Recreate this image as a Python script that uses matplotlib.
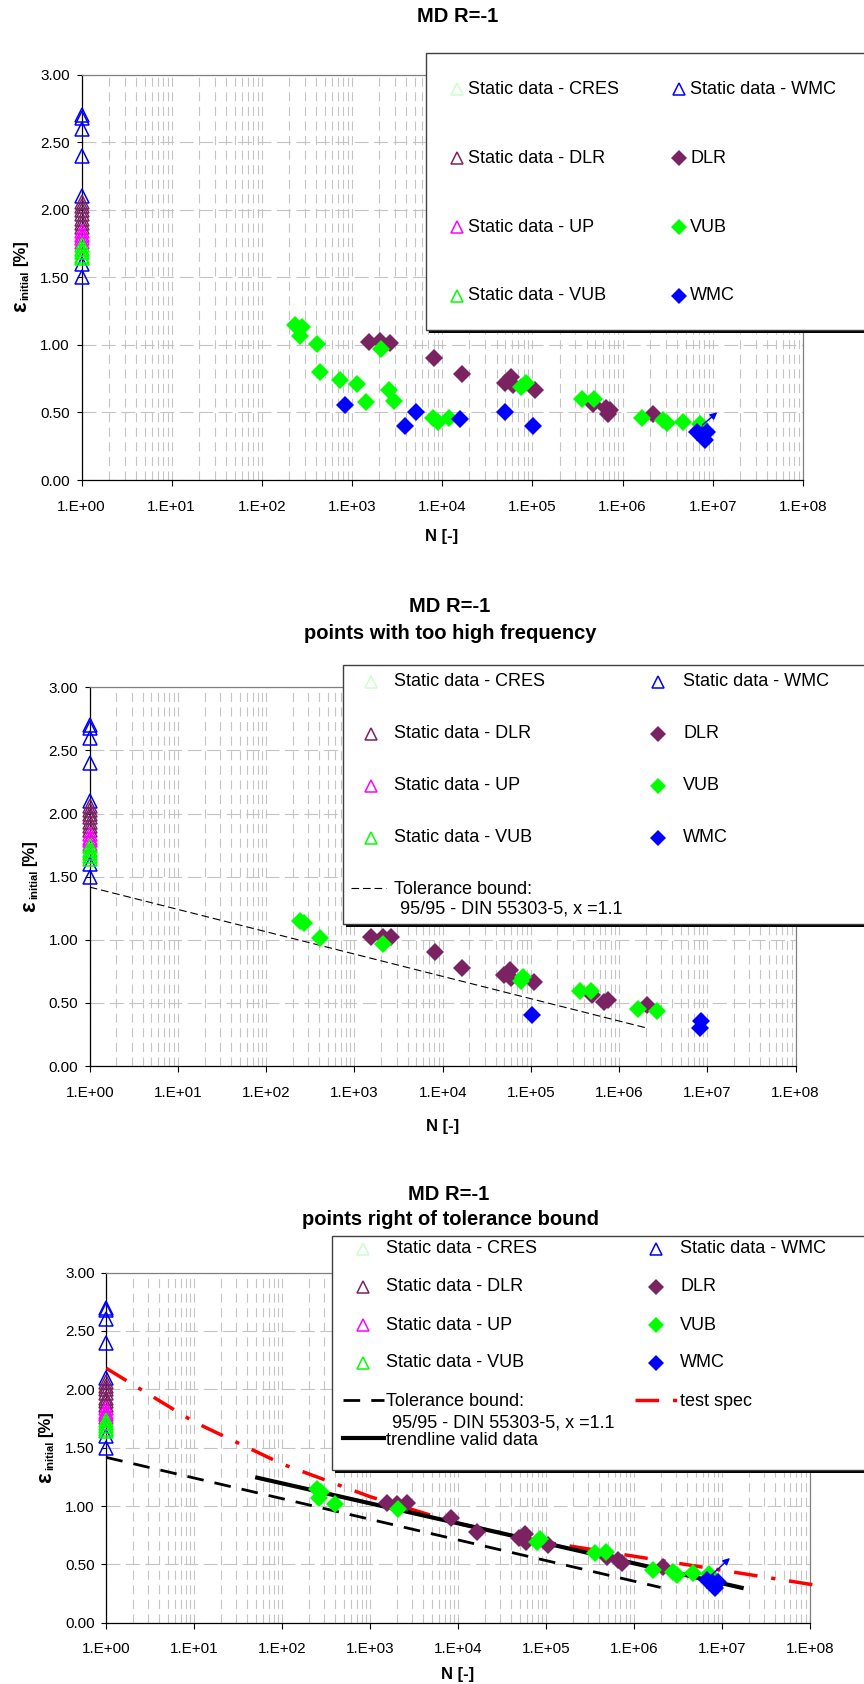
import numpy as np
import matplotlib
matplotlib.use("Agg")
import matplotlib.pyplot as plt
from matplotlib.patches import Rectangle
from matplotlib.ticker import FixedLocator, FuncFormatter, LogLocator, NullFormatter

plt.rcParams['font.family'] = ['Liberation Sans', 'DejaVu Sans']
plt.rcParams['lines.scale_dashes'] = False

# === colores de las series ===
C_CRES = '#CCFFCC'
C_WMC = '#0000FF'
C_DLR = '#7B2262'
C_UP = '#FF00FF'
C_VUB = '#00FF00'

# === datos estaticos (todos en N = 1) ===
static_cres = [1.70]
static_wmc = [2.70, 2.68, 2.60, 2.40, 2.10, 1.60, 1.50]
static_dlr = [2.06, 2.03, 2.00, 1.97, 1.93, 1.90, 1.87]
static_up = [1.84, 1.81, 1.79, 1.76]
static_vub = [1.74, 1.71, 1.69, 1.66, 1.64]

# === grafico 1: todos los puntos ===
p1_vub_N = [233, 276, 265, 405, 441, 735, 1143, 1416, 2075, 2567, 2915, 7960, 9040, 11880,
            74000, 85000, 357000, 481000, 1.63e6, 2.78e6, 3.08e6, 4.71e6, 7.2e6]
p1_vub_eps = [1.147, 1.130, 1.066, 1.007, 0.80, 0.74, 0.71, 0.577, 0.972, 0.666, 0.585, 0.461, 0.432, 0.461,
              0.69, 0.715, 0.597, 0.597, 0.456, 0.444, 0.424, 0.427, 0.414]
p1_dlr_N = [1541, 2040, 2630, 8160, 16400, 49600, 57400, 60400, 106700, 473000, 660000, 720000, 680000, 2.15e6]
p1_dlr_eps = [1.024, 1.031, 1.016, 0.905, 0.785, 0.72, 0.76, 0.703, 0.666, 0.563, 0.53, 0.52, 0.49, 0.486]
p1_wmc_N = [841, 3864, 5070, 15730, 50000, 102000, 6.62e6, 8.55e6, 8.19e6, 7.5e6]
p1_wmc_eps = [0.555, 0.402, 0.501, 0.454, 0.501, 0.402, 0.358, 0.358, 0.296, 0.333]
p1_arrow_N = [7.67e6, 1.12e7]
p1_arrow_eps = [0.407, 0.501]

# === grafico 2: puntos con frecuencia demasiado alta ===
p2_vub_N = [243, 269, 403, 2100, 82000, 76500, 361000, 482000, 1.64e6, 2.71e6]
p2_vub_eps = [1.151, 1.130, 1.011, 0.966, 0.708, 0.676, 0.597, 0.597, 0.449, 0.438]
p2_dlr_N = [1530, 2100, 2610, 8240, 16400, 49700, 57300, 60000, 109600, 497000, 676000, 741000, 2.09e6]
p2_dlr_eps = [1.024, 1.024, 1.019, 0.90, 0.78, 0.72, 0.76, 0.695, 0.668, 0.56, 0.51, 0.523, 0.483]
p2_wmc_N = [102000, 8.43e6, 8.18e6]
p2_wmc_eps = [0.404, 0.357, 0.298]

# === grafico 3: puntos a la derecha de la tolerancia ===
p3_vub_N = [247, 274, 265, 398, 2055, 78200, 85000, 360000, 480000, 1.66e6, 2.75e6, 3.05e6, 4.71e6, 7.16e6]
p3_vub_eps = [1.143, 1.123, 1.066, 1.018, 0.972, 0.695, 0.715, 0.595, 0.604, 0.452, 0.432, 0.41, 0.424, 0.418]
p3_dlr_N = [1540, 2040, 2600, 8300, 16500, 49500, 57500, 59200, 106000, 4.89e5, 6.62e5, 7.24e5, 2.15e6]
p3_dlr_eps = [1.024, 1.018, 1.024, 0.90, 0.781, 0.724, 0.761, 0.695, 0.667, 0.566, 0.538, 0.515, 0.475]
p3_wmc_N = [6.7e6, 7.94e6, 8.32e6, 9.08e6]
p3_wmc_eps = [0.367, 0.338, 0.295, 0.352]
p3_arrow_N = [7.43e6, 1.23e7]
p3_arrow_eps = [0.403, 0.555]

# lineas
tol_N = [1, 2.0e6]
tol_eps = [1.417, 0.303]
trend_N = [52, 1.67e7]
trend_eps = [1.243, 0.300]
spec_N = [1, 10, 1e2, 1e3, 1e4, 1e5, 1e6, 1e7, 1e8, 1.2e8]
spec_eps = [2.18, 1.72, 1.36, 1.08, 0.85, 0.69, 0.57, 0.45, 0.33, 0.322]

legend_left = ['Static data - CRES', 'Static data - DLR', 'Static data - UP', 'Static data - VUB']
legend_right = ['Static data - WMC', 'DLR', 'VUB', 'WMC']
legend_left_col = [C_CRES, C_DLR, C_UP, C_VUB]
legend_right_col = [C_WMC, C_DLR, C_VUB, C_WMC]
legend_right_mk = ['^', 'D', 'D', 'D']

W, H = 864, 1684
GRID = '#C4C4C4'
TRI = dict(marker='^', ms=9.5, mfc='none', mew=1.1, ls='none', clip_on=False)
DIA = dict(marker='D', ms=9.2, mew=0, ls='none')


def make_axes(fig, l, t, r, b):
    ax = fig.add_axes([l / W, 1 - b / H, (r - l) / W, (b - t) / H])
    ax.set_xscale('log')
    ax.set_xlim(1, 1e8)
    ax.set_ylim(0, 3)
    ax.xaxis.set_major_locator(FixedLocator(10.0 ** np.arange(0, 9)))
    ax.xaxis.set_minor_locator(LogLocator(base=10, subs=np.arange(2, 10), numticks=100))
    ax.xaxis.set_minor_formatter(NullFormatter())
    ax.xaxis.set_major_formatter(FuncFormatter(lambda v, p: f"1.E+{int(round(np.log10(v))):02d}"))
    ax.yaxis.set_major_locator(FixedLocator(np.arange(0, 3.01, 0.5)))
    ax.yaxis.set_major_formatter(FuncFormatter(lambda v, p: f"{v:.2f}"))
    ax.grid(True, which='both', axis='x', color=GRID, lw=0.8, linestyle=(0, (6.5, 4)))
    ax.grid(True, which='major', axis='y', color=GRID, lw=0.8, linestyle=(0, (10, 4)))
    ax.set_axisbelow(True)
    ax.tick_params(which='minor', length=0)
    ax.tick_params(axis='x', which='major', length=4.3, width=0.8, pad=9.8, labelsize=11)
    ax.tick_params(axis='y', which='major', length=3.6, width=0.8, pad=4.7, labelsize=11)
    for s in ['left', 'bottom']:
        ax.spines[s].set_color('black')
        ax.spines[s].set_linewidth(0.9)
    for s in ['top', 'right']:
        ax.spines[s].set_color('#808080')
        ax.spines[s].set_linewidth(0.9)
    return ax


def draw_points(ax, vubN, vubE, dlrN, dlrE, wmcN, wmcE):
    ax.plot([1] * len(static_cres), static_cres, color=C_CRES, zorder=5, **TRI)
    ax.plot([1] * len(static_wmc), static_wmc, color=C_WMC, zorder=5, **TRI)
    ax.plot([1] * len(static_dlr), static_dlr, color=C_DLR, zorder=5, **TRI)
    ax.plot(dlrN, dlrE, color=C_DLR, zorder=5, **DIA)
    ax.plot([1] * len(static_up), static_up, color=C_UP, zorder=5, **TRI)
    ax.plot(vubN, vubE, color=C_VUB, zorder=5, **DIA)
    ax.plot([1] * len(static_vub), static_vub, color=C_VUB, zorder=5, **TRI)
    ax.plot(wmcN, wmcE, color=C_WMC, zorder=6, **DIA)


def draw_arrow(ax, aN, aE):
    ax.annotate('', xy=(aN[1], aE[1]), xytext=(aN[0], aE[0]), zorder=7,
                arrowprops=dict(arrowstyle='-|>', color=C_WMC, lw=1, mutation_scale=10,
                                shrinkA=0, shrinkB=0))


def ylabel(ov, xc, yc):
    kw = dict(rotation=90, ha='center', va='center', fontweight='bold', color='black')
    ov.text(xc, yc + 30, 'ε', fontsize=16, **kw)
    ov.text(xc + 4, yc + 8, 'initial', fontsize=8, **kw)
    ov.text(xc, yc - 24, '[%]', fontsize=12, **kw)


def legend_box(ov, left, top, bottom):
    ov.add_patch(Rectangle((left + 3, top + 3), 950 - left, bottom - top, fc='black', ec='none',
                           zorder=1, clip_on=False))
    ov.add_patch(Rectangle((left, top), 950 - left, bottom - top, fc='white', ec='#404040', lw=1,
                           zorder=2, clip_on=False))


def legend_rows(ov, mx1, tx1, mx2, tx2, rows):
    for i, y in enumerate(rows):
        ov.plot([mx1], [y], marker='^', ms=9, mfc='none', mew=1.1, color=legend_left_col[i], zorder=3)
        ov.text(tx1, y, legend_left[i], fontsize=13, ha='left', va='center', zorder=3)
        if legend_right_mk[i] == '^':
            ov.plot([mx2], [y], marker='^', ms=9, mfc='none', mew=1.1, color=legend_right_col[i], zorder=3)
        else:
            ov.plot([mx2], [y], marker='D', ms=8.3, mew=0, color=legend_right_col[i], zorder=3)
        ov.text(tx2, y, legend_right[i], fontsize=13, ha='left', va='center', zorder=3)


fig = plt.figure(figsize=(W / 100, H / 100), dpi=100)

# --- grafico 1 ---
ax1 = make_axes(fig, 81.5, 74.7, 803, 480)
draw_points(ax1, p1_vub_N, p1_vub_eps, p1_dlr_N, p1_dlr_eps, p1_wmc_N, p1_wmc_eps)
draw_arrow(ax1, p1_arrow_N, p1_arrow_eps)

# --- grafico 2 ---
ax2 = make_axes(fig, 89.8, 687.3, 795.6, 1066)
ax2.plot(tol_N, tol_eps, color='black', lw=0.8, linestyle=(0, (5.5, 2.8)), zorder=4)
draw_points(ax2, p2_vub_N, p2_vub_eps, p2_dlr_N, p2_dlr_eps, p2_wmc_N, p2_wmc_eps)

# --- grafico 3 ---
ax3 = make_axes(fig, 106.3, 1272.6, 810, 1622.8)
ax3.plot(spec_N, spec_eps, color='#FF0000', lw=2.5, linestyle=(0, (17, 10, 3, 10)), zorder=4, clip_on=False)
ax3.plot(tol_N, tol_eps, color='black', lw=2, linestyle=(0, (12, 8)), zorder=4)
ax3.plot(trend_N, trend_eps, color='black', lw=3, zorder=4)
draw_points(ax3, p3_vub_N, p3_vub_eps, p3_dlr_N, p3_dlr_eps, p3_wmc_N, p3_wmc_eps)
draw_arrow(ax3, p3_arrow_N, p3_arrow_eps)

# --- textos y leyendas (coordenadas en pixeles) ---
ov = fig.add_axes([0, 0, 1, 1], zorder=10)
ov.set_xlim(0, W)
ov.set_ylim(H, 0)
ov.axis('off')

tkw = dict(ha='center', va='center', fontsize=14.5, fontweight='bold')
ov.text(458, 17, 'MD R=-1', **tkw)
ov.text(450, 606.7, 'MD R=-1', **tkw)
ov.text(450, 633.3, 'points with too high frequency', **tkw)
ov.text(449, 1194.3, 'MD R=-1', **tkw)
ov.text(450, 1219.8, 'points right of tolerance bound', **tkw)

xkw = dict(ha='center', va='center', fontsize=12, fontweight='bold')
ov.text(442, 536, 'N [-]', **xkw)
ov.text(443, 1126, 'N [-]', **xkw)
ov.text(458, 1674.5, 'N [-]', **xkw)

ylabel(ov, 21, 277)
ylabel(ov, 30, 876.7)
ylabel(ov, 46, 1447.7)

legend_box(ov, 426, 52.7, 330)
legend_rows(ov, 457, 468, 679, 690, [89.3, 158.3, 227.3, 296])

legend_box(ov, 342.7, 665, 924.3)
legend_rows(ov, 370.8, 394.5, 658.4, 683.2, [681.7, 734, 786, 837.7])
ov.plot([351, 385.7], [888.3, 888.3], color='black', lw=0.8, linestyle=(0, (5.5, 2.8)), zorder=3)
ov.text(394.5, 890, 'Tolerance bound:', fontsize=13, ha='left', va='center', zorder=3)
ov.text(400, 909, '95/95 - DIN 55303-5, x =1.1', fontsize=13, ha='left', va='center', zorder=3)

legend_box(ov, 332.2, 1236.2, 1470)
legend_rows(ov, 362.5, 386.2, 655.6, 680, [1248.8, 1286.9, 1325, 1362.9])
ov.plot([342.7, 384], [1400.3, 1400.3], color='black', lw=2, linestyle=(0, (12, 8)), zorder=3)
ov.text(386.2, 1402, 'Tolerance bound:', fontsize=13, ha='left', va='center', zorder=3)
ov.text(391.7, 1422.5, '95/95 - DIN 55303-5, x =1.1', fontsize=13, ha='left', va='center', zorder=3)
ov.plot([342.7, 384], [1437.8, 1437.8], color='black', lw=3, zorder=3)
ov.text(386.2, 1440.2, 'trendline valid data', fontsize=13, ha='left', va='center', zorder=3)
ov.plot([635.3, 678], [1400, 1400], color='#FF0000', lw=2.5, linestyle=(0, (17, 10, 3, 10)), zorder=3)
ov.text(680, 1402, 'test spec', fontsize=13, ha='left', va='center', zorder=3)

fig.savefig('out.png', dpi=100)
